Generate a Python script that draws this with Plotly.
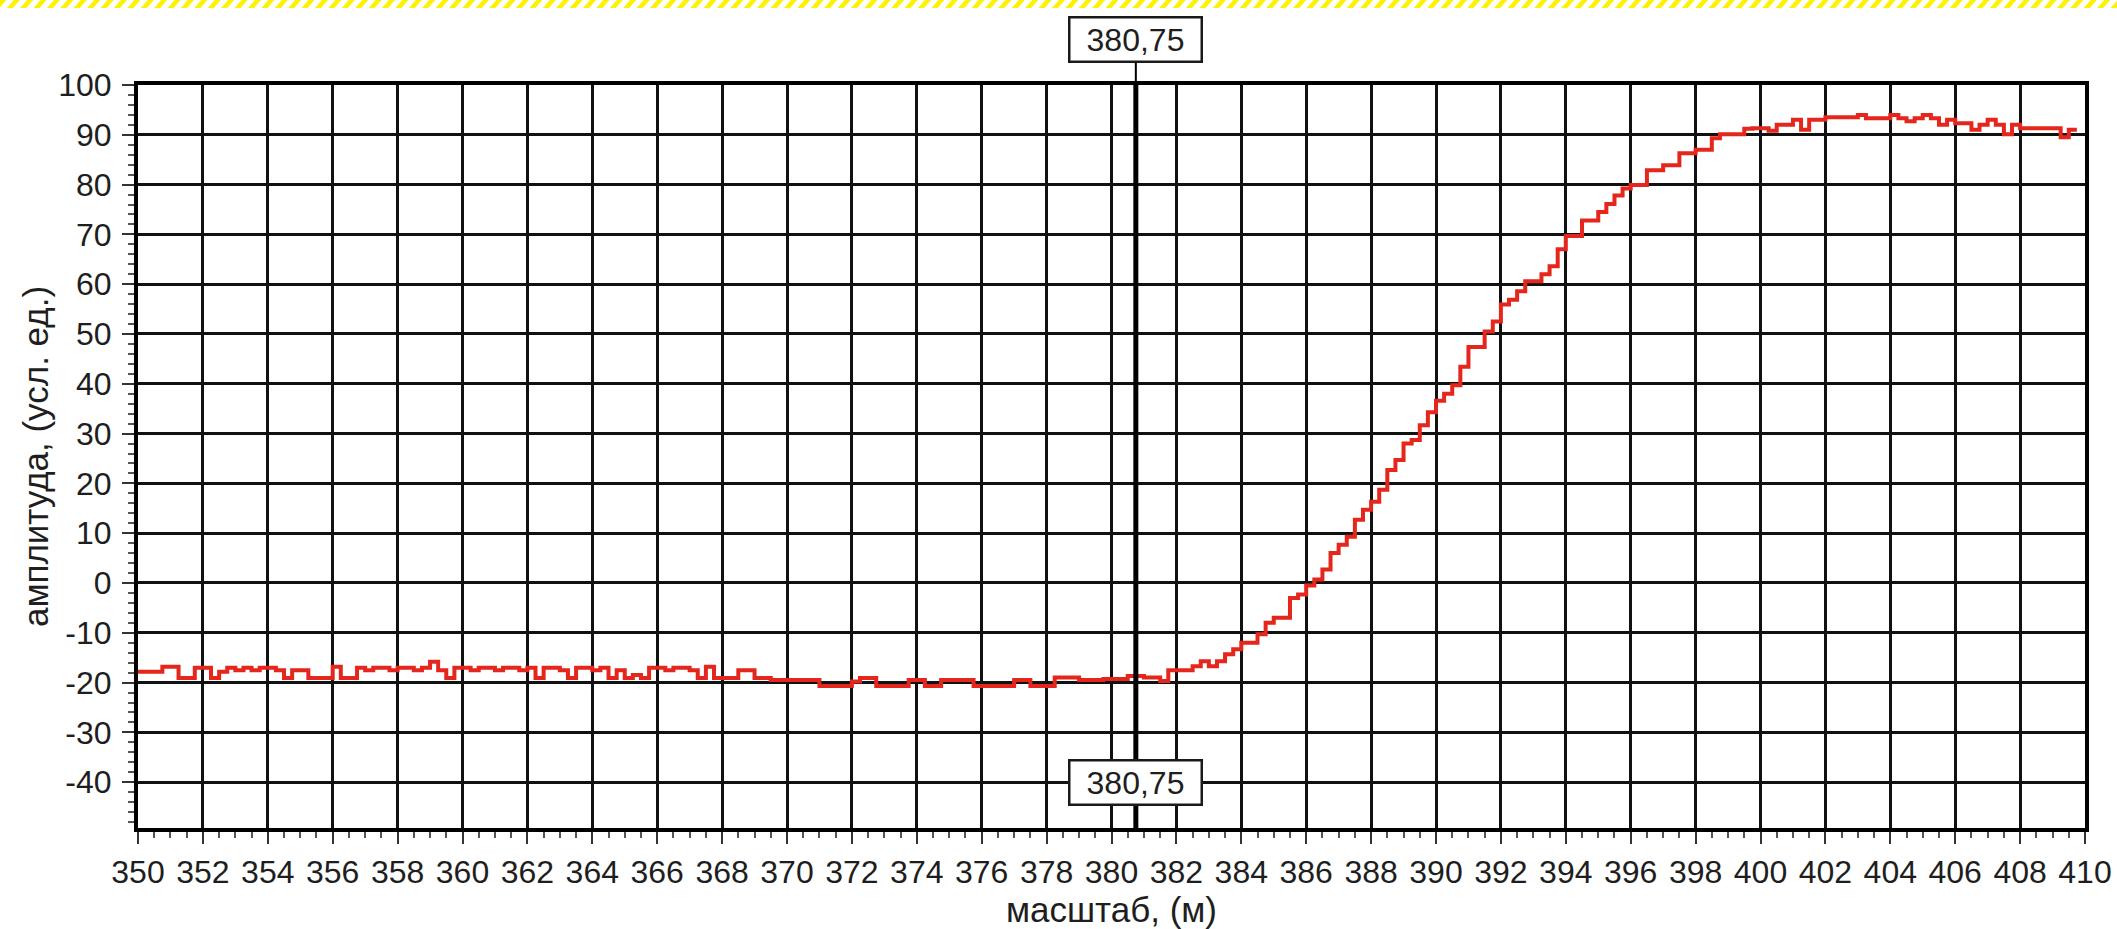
import plotly.graph_objects as go

# ---------------- data ----------------
x_start = 350.0
x_step = 0.25

amp_350_360 = [-17.8, -17.8, -17.8, -16.8, -16.8, -19.1, -19.1, -17.0, -17.0, -19.1,
               -17.8, -17.0, -17.5, -17.0, -17.5, -17.0, -17.0, -17.5, -19.1, -17.5,
               -17.5, -19.1, -19.1, -19.1, -16.8, -19.1, -19.1, -17.0, -17.5, -17.0,
               -17.0, -17.5, -17.0, -17.0, -17.5, -17.0, -15.8, -17.5, -19.1, -17.0]
amp_360_370 = [-17.0, -17.5, -17.0, -17.0, -17.5, -17.0, -17.0, -17.5, -17.0, -19.1,
               -17.0, -17.0, -17.5, -19.1, -17.0, -17.0, -17.5, -17.0, -19.1, -17.5,
               -19.1, -18.5, -19.1, -17.0, -17.0, -17.5, -17.0, -17.0, -17.5, -19.1,
               -16.8, -19.1, -19.1, -19.1, -17.5, -17.5, -19.1, -19.1, -19.5, -19.5]
amp_370_380 = [-19.5, -19.5, -19.5, -19.5, -20.7, -20.7, -20.7, -20.7, -19.8, -19.1,
               -19.1, -20.7, -20.7, -20.7, -20.7, -19.5, -19.5, -20.7, -20.7, -19.5,
               -19.5, -19.5, -19.5, -20.7, -20.7, -20.7, -20.7, -20.7, -19.5, -19.5,
               -20.7, -20.7, -20.7, -19.0, -19.0, -19.0, -19.5, -19.5, -19.5, -19.3]
amp_380_390 = [-19.3, -19.3, -18.7, -18.7, -19.0, -19.0, -19.7, -17.5, -17.5, -17.5,
               -16.7, -15.7, -16.7, -15.7, -14.3, -13.3, -12.0, -12.0, -10.3, -8.0,
               -7.0, -7.0, -3.0, -2.3, -0.5, 0.7, 2.7, 6.0, 7.7, 9.3,
               12.7, 14.7, 16.3, 18.7, 22.7, 24.7, 28.0, 28.7, 31.7, 34.3]
amp_390_400 = [36.6, 38.0, 39.7, 43.4, 47.4, 47.4, 50.5, 52.5, 55.9, 56.9,
               58.6, 60.6, 60.6, 62.0, 63.6, 67.0, 69.7, 69.7, 72.8, 72.8,
               74.5, 76.1, 77.8, 79.2, 79.9, 79.9, 82.9, 82.9, 83.9, 83.9,
               86.3, 86.3, 87.0, 87.0, 89.3, 90.1, 90.1, 90.1, 91.2, 91.3]
amp_400_410 = [91.3, 90.8, 92.0, 92.0, 93.0, 91.0, 93.0, 93.0, 93.5, 93.5,
               93.5, 93.5, 94.0, 93.3, 93.3, 93.3, 94.0, 93.3, 92.7, 93.3,
               94.0, 93.3, 92.0, 93.0, 92.3, 92.3, 91.0, 92.0, 93.0, 92.0,
               90.1, 92.0, 91.3, 91.3, 91.3, 91.3, 91.3, 89.5, 91.0, 91.0]

amplitude = amp_350_360 + amp_360_370 + amp_370_380 + amp_380_390 + amp_390_400 + amp_400_410
position = [x_start + i * x_step for i in range(len(amplitude))]

marker_x = 380.75
marker_label = "380,75"

x_tick_vals = list(range(350, 411, 2))
x_tick_text = [str(v) for v in x_tick_vals]
y_tick_vals = list(range(-40, 101, 10))
y_tick_text = [str(v) for v in y_tick_vals]

x_title = "масштаб, (м)"
y_title = "амплитуда, (усл. ед.)"

# ---------------- layout geometry ----------------
W, H = 2117, 929
ML, MR, MT, MB = 138, 32, 85, 101
PW, PH = W - ML - MR, H - MT - MB
FONT = "Liberation Sans, Arial, sans-serif"
TXT = "#1e1e1e"


def px2paper(px, py):
    return (px - ML) / PW, (H - MB - py) / PH


fig = go.Figure()

fig.add_trace(go.Scatter(
    x=position, y=amplitude, mode="lines",
    line=dict(color="#e5261c", width=4, shape="hv"),
    hoverinfo="x+y", showlegend=False,
))

axis_common = dict(
    showline=True, linecolor="black", linewidth=4, mirror=True,
    showgrid=True, gridcolor="#111", gridwidth=2.5,
    zeroline=False, automargin=False,
    ticks="outside", tickcolor="#333", tickwidth=1.5, ticklen=12,
    tickfont=dict(family=FONT, size=32, color=TXT),
)

fig.update_xaxes(
    range=[350, 410], tickmode="array", tickvals=x_tick_vals, ticktext=x_tick_text,
    minor=dict(dtick=0.5, tick0=350, ticks="outside", ticklen=6, tickcolor="#555",
               tickwidth=1.5, showgrid=False),
    title=dict(text=x_title, font=dict(family=FONT, size=35, color=TXT), standoff=14),
    ticklabelstandoff=1,
    **axis_common,
)
fig.update_yaxes(
    range=[-49.2, 100], tickmode="array", tickvals=y_tick_vals, ticktext=y_tick_text,
    minor=dict(dtick=2, tick0=0, ticks="outside", ticklen=6, tickcolor="#555",
               tickwidth=1.5, showgrid=False),
    title=dict(text=y_title, font=dict(family=FONT, size=35, color=TXT), standoff=0),
    ticklabelstandoff=4,
    **axis_common,
)

shapes = []
# cursor line inside plot
shapes.append(dict(type="line", xref="x", yref="paper", x0=marker_x, x1=marker_x,
                   y0=0, y1=1, line=dict(color="black", width=5), layer="above"))
# cursor stem above plot up to the label box
_, stem_top = px2paper(0, 60)
shapes.append(dict(type="line", xref="x", yref="paper", x0=marker_x, x1=marker_x,
                   y0=1, y1=stem_top, line=dict(color="black", width=2)))

# yellow hatched stripe along the top edge
period = 13.4
dash_w = 6.0
slant = 7.0
h_top, h_bot = 0.0, 8.0
path = ""
px = -20.0
while px < W + 20:
    pts = [(px, h_bot), (px + dash_w, h_bot), (px + dash_w + slant, h_top), (px + slant, h_top)]
    pp = [px2paper(a, b) for a, b in pts]
    path += "M{:.5f},{:.5f} ".format(*pp[0]) + " ".join("L{:.5f},{:.5f}".format(*q) for q in pp[1:]) + " Z "
    px += period
shapes.append(dict(type="path", xref="paper", yref="paper", path=path,
                   fillcolor="#fff200", line=dict(width=0)))

fig.update_layout(shapes=shapes)

_, box_top_y = px2paper(0, 39)
for ann_y, ann_ref in ((box_top_y, "paper"), (-40, "y")):
    fig.add_annotation(x=marker_x, y=ann_y, xref="x", yref=ann_ref,
                       xanchor="center", yanchor="middle",
                       text=marker_label, showarrow=False,
                       font=dict(family=FONT, size=32, color=TXT),
                       bgcolor="white", bordercolor="#1a1a1a", borderwidth=2.5,
                       width=130, height=42, borderpad=0)

fig.update_layout(
    width=W, height=H,
    margin=dict(l=ML, r=MR, t=MT, b=MB, autoexpand=False),
    paper_bgcolor="white", plot_bgcolor="white",
    font=dict(family=FONT, color=TXT),
    showlegend=False,
)

fig.write_html("out.html")
